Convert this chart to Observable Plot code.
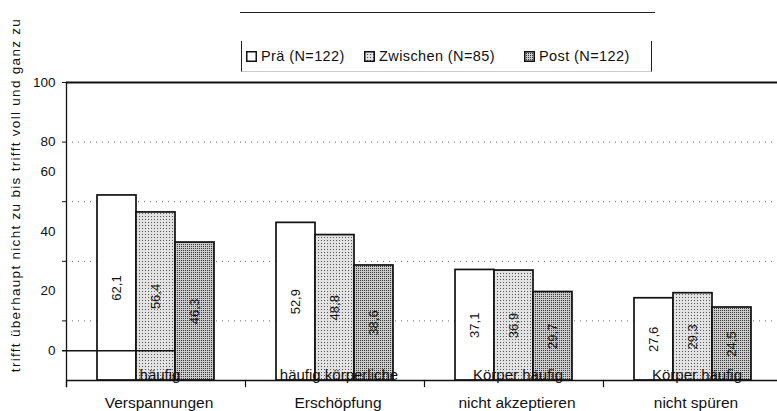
<!DOCTYPE html>
<html>
<head>
<meta charset="utf-8">
<script src="https://cdn.jsdelivr.net/npm/d3@7"></script>
<script src="https://cdn.jsdelivr.net/npm/@observablehq/plot@0.6"></script>
<style>
  html, body { margin: 0; padding: 0; background: #fff; }
  body { font-family: "Liberation Sans", Arial, Helvetica, sans-serif; color: #111; }
  #wrap { position: relative; width: 777px; height: 411px; overflow: hidden; }
  #chart { position: absolute; left: 0; top: 0; }
  #chart svg { display: block; overflow: visible; }
  #topline { position: absolute; left: 240px; top: 12px; width: 415px; border-top: 1.3px solid #222; }
  #legend { position: absolute; left: 241px; top: 41px; width: 409px; height: 30px;
            border-left: 1.5px solid #222; border-right: 1.5px solid #222; border-bottom: 1px solid #ccc; }
  .item { position: absolute; top: 8px; font-size: 14.5px; letter-spacing: 0.4px; line-height: 14px; white-space: nowrap; }
  .item svg { vertical-align: -1px; margin-right: 4px; }
</style>
</head>
<body>
<div id="wrap">
  <div id="chart"></div>
  <div id="topline"></div>
  <div id="legend"></div>
</div>
<script>
// ---- data ----
const categories = ["Verspannungen", "Erschöpfung", "nicht akzeptieren", "nicht spüren"];
const categoryTopLines = ["häufig", "häufig körperliche", "Körper häufig", "Körper häufig"];
const series = ["Prä (N=122)", "Zwischen (N=85)", "Post (N=122)"];
const praValues = [62.1, 52.9, 37.1, 27.6];
const zwischenValues = [56.4, 48.8, 36.9, 29.3];
const postValues = [46.3, 38.6, 29.7, 24.5];
const yTickLabels = ["100", "80", "60", "40", "20", "0"];
const yTickLabelPositions = [100, 80, 70, 50, 30, 10];
const yGridValues = [20, 40, 60, 80];
const yTitle = "trifft überhaupt nicht zu bis trifft voll und ganz zu";

// ---- build table ----
const seriesValues = [praValues, zwischenValues, postValues];
const rows = [];
categories.forEach((c, i) => series.forEach((s, j) => rows.push({cat: c, ser: s, value: seriesValues[j][i]})));
const catRows = categories.map((c, i) => ({cat: c, top: categoryTopLines[i]}));
const fills = ["white", "url(#patZw)", "url(#patPost)"];
const labelOf = new Map(yTickLabelPositions.map((p, i) => [p, yTickLabels[i]]));
const fmt = v => v.toFixed(1).replace(".", ",");

const chart = Plot.plot({
  width: 777,
  height: 411,
  marginTop: 82,
  marginBottom: 31,
  marginLeft: 65,
  marginRight: -5,
  style: {fontFamily: "Liberation Sans, Arial, sans-serif", color: "#111", background: "transparent"},
  fx: {domain: categories, padding: 0, axis: null},
  x: {domain: series, paddingInner: 0, paddingOuter: 0.75, axis: null},
  y: {domain: [0, 100], axis: null},
  color: {domain: series, range: fills},
  marks: [
    Plot.gridY(yGridValues, {stroke: "#555", strokeOpacity: 0.9, strokeDasharray: "1,5", strokeWidth: 1}),
    Plot.axisY({ticks: yTickLabelPositions, tickFormat: d => labelOf.get(d), tickSize: 0, tickPadding: 11, fontSize: 13.5, anchor: "left"}),
    Plot.axisY({ticks: [...yGridValues, 100], tickFormat: () => "", tickSize: 4, anchor: "left", strokeWidth: 1}),
    Plot.frame({anchor: "left", facetAnchor: "left", strokeWidth: 1.3, insetBottom: -6}),
    Plot.frame({anchor: "left", insetTop: 298, insetBottom: -6, strokeWidth: 1.2}),
    Plot.ruleY([100], {strokeWidth: 2}),
    Plot.barY(rows, {fx: "cat", x: "ser", y: "value", fill: "ser", stroke: "#111", strokeWidth: 1.7}),
    Plot.ruleY([0], {strokeWidth: 1.4}),
    Plot.ruleY([{cat: categories[0], v: 10}], {fx: "cat", y: "v", insetLeft: -4, insetRight: 70, strokeWidth: 1.4}),
    Plot.text(rows, {fx: "cat", x: "ser", y: d => d.value / 2, text: d => fmt(d.value), rotate: -90, fontSize: 13, fill: "#111"}),
    Plot.text(catRows, {fx: "cat", y: () => 0, text: "top", dy: -5, dx: 4, fontSize: 15, letterSpacing: 0.3, fill: "#111"}),
    Plot.text(catRows, {fx: "cat", y: () => 0, text: "cat", dy: 23, dx: 3, fontSize: 15.5, letterSpacing: 0.8, fill: "#111"})
  ]
});

// patterns (stipple fills of the scanned bars)
const defs = d3.select(chart).insert("defs", ":first-child");
const pz = defs.append("pattern").attr("id", "patZw").attr("width", 3).attr("height", 3).attr("patternUnits", "userSpaceOnUse");
pz.append("rect").attr("width", 3).attr("height", 3).attr("fill", "#e2e2e2");
pz.append("rect").attr("x", 0).attr("y", 0).attr("width", 1).attr("height", 1).attr("fill", "#555");
const pp = defs.append("pattern").attr("id", "patPost").attr("width", 2).attr("height", 2).attr("patternUnits", "userSpaceOnUse");
pp.append("rect").attr("width", 2).attr("height", 2).attr("fill", "#cacaca");
pp.append("rect").attr("x", 0).attr("y", 0).attr("width", 1).attr("height", 1).attr("fill", "#3a3a3a");

// y-axis title
d3.select(chart).append("text")
  .attr("transform", "translate(20,195) rotate(-90)")
  .attr("text-anchor", "middle")
  .attr("font-size", 13.5)
  .attr("letter-spacing", "1.3px")
  .attr("fill", "#111")
  .text(yTitle);

document.getElementById("chart").appendChild(chart);

// legend
const legendLeft = [4, 122, 282];
const legend = document.getElementById("legend");
series.forEach((s, i) => {
  const div = document.createElement("div");
  div.className = "item";
  div.style.left = legendLeft[i] + "px";
  div.innerHTML = `<svg width="11" height="11"><rect x="0.75" y="0.75" width="9.5" height="9.5" fill="${fills[i]}" stroke="#111" stroke-width="1.5"/></svg>${s}`;
  legend.appendChild(div);
});
</script>
</body>
</html>
